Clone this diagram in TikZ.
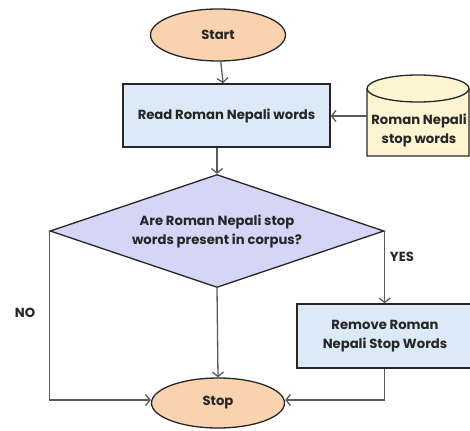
\documentclass[tikz,border=0pt]{standalone}
\usepackage{fontspec}
\setmainfont{Poppins}
\usetikzlibrary{shapes.geometric,arrows.meta}
\definecolor{peach}{HTML}{F9D3B0}
\definecolor{procblue}{HTML}{DCEAF8}
\definecolor{lav}{HTML}{D4D5F7}
\definecolor{cylyellow}{HTML}{FDF5D2}
\definecolor{conngray}{HTML}{5A5A5A}
\begin{document}
\begin{tikzpicture}[x=1pt,y=-1pt,
  every node/.style={font=\fontsize{13.2}{19}\selectfont\bfseries, text=black!85},
  shapeline/.style={draw=black!85, line width=1.3pt},
  term/.style={shapeline, ellipse, fill=peach, minimum width=135pt, minimum height=52pt, inner sep=0pt},
  proc/.style={shapeline, rectangle, fill=procblue, align=center, inner sep=0pt},
  dec/.style={shapeline, diamond, fill=lav, align=center, minimum width=334pt, minimum height=113pt, inner sep=0pt, aspect=3},
  conn/.style={draw=conngray, line width=1.3pt, -{Straight Barb[length=4.5pt,width=11pt,line width=1.3pt]}},
  lbl/.style={inner sep=0pt}]
\useasboundingbox (0,0) rectangle (470,430);
% nodes
\node[term] (start) at (218,35) {Start};
\node[proc, minimum width=207pt, minimum height=63pt] (read) at (226.5,115.5) {Read Roman Nepali words};
% cylinder (flat bottom)
\filldraw[shapeline, fill=cylyellow] (367,88.5) -- (367,156) -- (469,156) -- (469,88.5)
  arc[start angle=0, end angle=-180, x radius=51, y radius=13.5] -- cycle;
\draw[shapeline] (367,88.5) arc[start angle=180, end angle=0, x radius=51, y radius=13.5];
\node[minimum width=102pt, minimum height=80pt, inner sep=0pt, align=center, text depth=0pt] (cyl) at (418,116) {};
\node[align=center, inner sep=0pt] (cyltext) at (419,130.5) {Roman Nepali\\stop words};
\node[dec] (dec) at (217,231) {Are Roman Nepali stop\\words present in corpus?};
\node[proc, minimum width=176pt, minimum height=64pt] (rem) at (385,336) {Remove Roman\\Nepali Stop Words};
\node[term, minimum width=133pt, minimum height=50pt] (stop) at (218,403) {Stop};
% labels
\node[lbl] (yes) at (402,257) {YES};
\node[lbl] (no) at (25,313) {NO};
% connectors
\draw[conn] (start) -- (read);
\draw[conn] (cyl.west) -- (cyl.west -| read.east);
\draw[conn] (read.south -| dec.north) -- (dec.north);
\draw[conn] (dec.west) |- ([yshift=3pt]stop.west);
\draw[conn] (dec.south) -- (stop.north);
\draw[conn] (dec.east) -- (dec.east |- rem.north);
\draw[conn] (dec.east |- rem.south) |- ([yshift=3pt]stop.east);
\end{tikzpicture}
\end{document}
